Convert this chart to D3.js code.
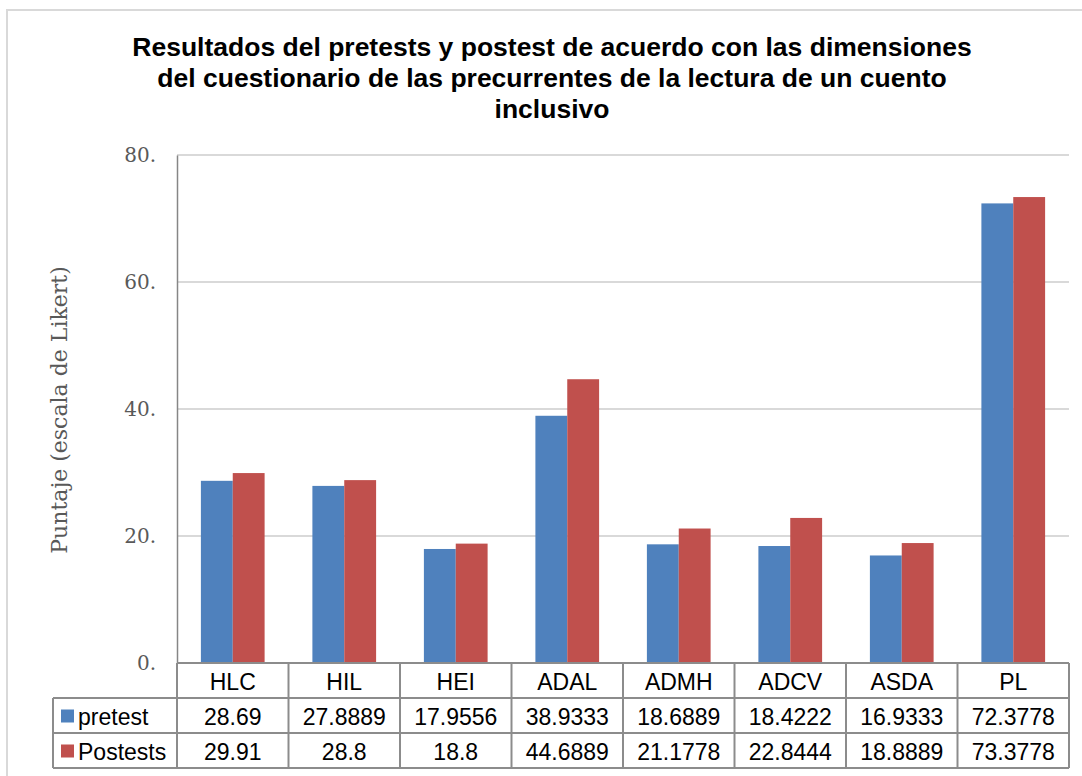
<!DOCTYPE html>
<html>
<head>
<meta charset="utf-8">
<script src="https://cdn.jsdelivr.net/npm/d3@7"></script>
<style>
  body { margin: 0; background: #fff; }
  svg text { font-family: "Liberation Sans", Arial, sans-serif; }
</style>
</head>
<body>
<div id="chart"></div>
<script>
var categories = ["HLC", "HIL", "HEI", "ADAL", "ADMH", "ADCV", "ASDA", "PL"];
var pretest = [28.69, 27.8889, 17.9556, 38.9333, 18.6889, 18.4222, 16.9333, 72.3778];
var postests = [29.91, 28.8, 18.8, 44.6889, 21.1778, 22.8444, 18.8889, 73.3778];
var pretestLabels = ["28.69", "27.8889", "17.9556", "38.9333", "18.6889", "18.4222", "16.9333", "72.3778"];
var postestLabels = ["29.91", "28.8", "18.8", "44.6889", "21.1778", "22.8444", "18.8889", "73.3778"];
var yTicks = [0, 20, 40, 60, 80];
var seriesNames = ["pretest", "Postests"];
var titleLines = [
    "Resultados del pretests y postest de acuerdo con las dimensiones",
    "del cuestionario de las precurrentes de la lectura de un cuento",
    "inclusivo"
];

var W = 1082, H = 776;
var plot = { left: 177, right: 1069, top: 155, bottom: 663 };
var rowH = 35;
var legendLeft = 53;

var svg = d3.select("#chart").append("svg")
    .attr("width", W)
    .attr("height", H);

// chart frame
svg.append("rect")
    .attr("x", 7).attr("y", 10)
    .attr("width", W + 10).attr("height", H + 10)
    .attr("fill", "none")
    .attr("stroke", "#d9d9d9")
    .attr("stroke-width", 2);

var x0 = d3.scaleBand()
    .domain(categories)
    .range([plot.left, plot.right]);

var x1 = d3.scaleBand()
    .domain(seriesNames)
    .range([0, x0.bandwidth()])
    .paddingInner(0)
    .paddingOuter(0.75);

var y = d3.scaleLinear()
    .domain([0, 80])
    .range([plot.bottom, plot.top]);

var color = d3.scaleOrdinal()
    .domain(seriesNames)
    .range(["#4f81bd", "#c0504d"]);

// gridlines
svg.append("g")
    .selectAll("line")
    .data(yTicks.filter(function (d) { return d > 0; }))
    .enter().append("line")
    .attr("x1", plot.left).attr("x2", plot.right)
    .attr("y1", function (d) { return y(d); })
    .attr("y2", function (d) { return y(d); })
    .attr("stroke", "#d9d9d9")
    .attr("stroke-width", 2);

// y axis
var yAxis = svg.append("g")
    .attr("transform", "translate(" + plot.left + ",0)")
    .call(d3.axisLeft(y).tickValues(yTicks).tickSize(0).tickPadding(21)
        .tickFormat(function (d) { return d + "."; }));
yAxis.select(".domain").attr("stroke", "#868686").attr("stroke-width", 1.5);
yAxis.selectAll("text")
    .style("font-family", "'DejaVu Serif', 'Liberation Serif', serif")
    .style("font-size", "20px")
    .attr("fill", "#595959");

svg.append("text")
    .attr("transform", "translate(67," + 410 + ") rotate(-90)")
    .attr("text-anchor", "middle")
    .style("font-family", "'DejaVu Serif', 'Liberation Serif', serif")
    .style("font-size", "22px")
    .attr("fill", "#595959")
    .text("Puntaje (escala de Likert)");

// bars
var data = categories.map(function (c, i) {
    return { cat: c, values: [
        { key: "pretest", value: pretest[i] },
        { key: "Postests", value: postests[i] }
    ] };
});

svg.append("g")
    .selectAll("g")
    .data(data)
    .enter().append("g")
    .attr("transform", function (d) { return "translate(" + x0(d.cat) + ",0)"; })
    .selectAll("rect")
    .data(function (d) { return d.values; })
    .enter().append("rect")
    .attr("x", function (d) { return x1(d.key); })
    .attr("y", function (d) { return y(d.value); })
    .attr("width", x1.bandwidth())
    .attr("height", function (d) { return y(0) - y(d.value); })
    .attr("fill", function (d) { return color(d.key); });

// data table
var tbl = svg.append("g");
var tStroke = "#8c8c8c";
var tableBottom = plot.bottom + rowH * 3;

tbl.append("line").attr("x1", plot.left).attr("x2", plot.right)
    .attr("y1", plot.bottom).attr("y2", plot.bottom)
    .attr("stroke", tStroke).attr("stroke-width", 2);
[1, 2, 3].forEach(function (r) {
    tbl.append("line").attr("x1", legendLeft).attr("x2", plot.right)
        .attr("y1", plot.bottom + rowH * r).attr("y2", plot.bottom + rowH * r)
        .attr("stroke", tStroke).attr("stroke-width", 2);
});
tbl.append("line").attr("x1", legendLeft).attr("x2", legendLeft)
    .attr("y1", plot.bottom + rowH).attr("y2", tableBottom)
    .attr("stroke", tStroke).attr("stroke-width", 2);
categories.forEach(function (c) {
    tbl.append("line").attr("x1", x0(c)).attr("x2", x0(c))
        .attr("y1", plot.bottom).attr("y2", tableBottom)
        .attr("stroke", tStroke).attr("stroke-width", 2);
});
tbl.append("line").attr("x1", plot.right).attr("x2", plot.right)
    .attr("y1", plot.bottom).attr("y2", tableBottom)
    .attr("stroke", tStroke).attr("stroke-width", 2);

var cellFont = "23px";
tbl.selectAll(".head")
    .data(categories)
    .enter().append("text")
    .attr("x", function (d) { return x0(d) + x0.bandwidth() / 2; })
    .attr("y", plot.bottom + rowH / 2 + 1)
    .attr("dy", "0.35em")
    .attr("text-anchor", "middle")
    .style("font-size", cellFont)
    .attr("fill", "#000")
    .text(function (d) { return d; });

[pretestLabels, postestLabels].forEach(function (labels, r) {
    var cy = plot.bottom + rowH * (r + 1) + rowH / 2 + 1;
    tbl.selectAll(".row" + r)
        .data(labels)
        .enter().append("text")
        .attr("x", function (d, i) { return x0(categories[i]) + x0.bandwidth() / 2; })
        .attr("y", cy)
        .attr("dy", "0.35em")
        .attr("text-anchor", "middle")
        .style("font-size", cellFont)
        .attr("fill", "#000")
        .text(function (d) { return d; });
    tbl.append("rect")
        .attr("x", legendLeft + 8).attr("y", cy - 7)
        .attr("width", 13).attr("height", 13)
        .attr("fill", color(seriesNames[r]));
    tbl.append("text")
        .attr("x", legendLeft + 25).attr("y", cy)
        .attr("dy", "0.35em")
        .style("font-size", cellFont)
        .attr("fill", "#000")
        .text(seriesNames[r]);
});

// title
svg.append("text")
    .attr("text-anchor", "middle")
    .style("font-size", "26.5px")
    .style("font-weight", "bold")
    .attr("fill", "#000")
    .selectAll("tspan")
    .data(titleLines)
    .enter().append("tspan")
    .attr("x", 552)
    .attr("y", function (d, i) { return 56 + i * 31; })
    .text(function (d) { return d; });
</script>
</body>
</html>
